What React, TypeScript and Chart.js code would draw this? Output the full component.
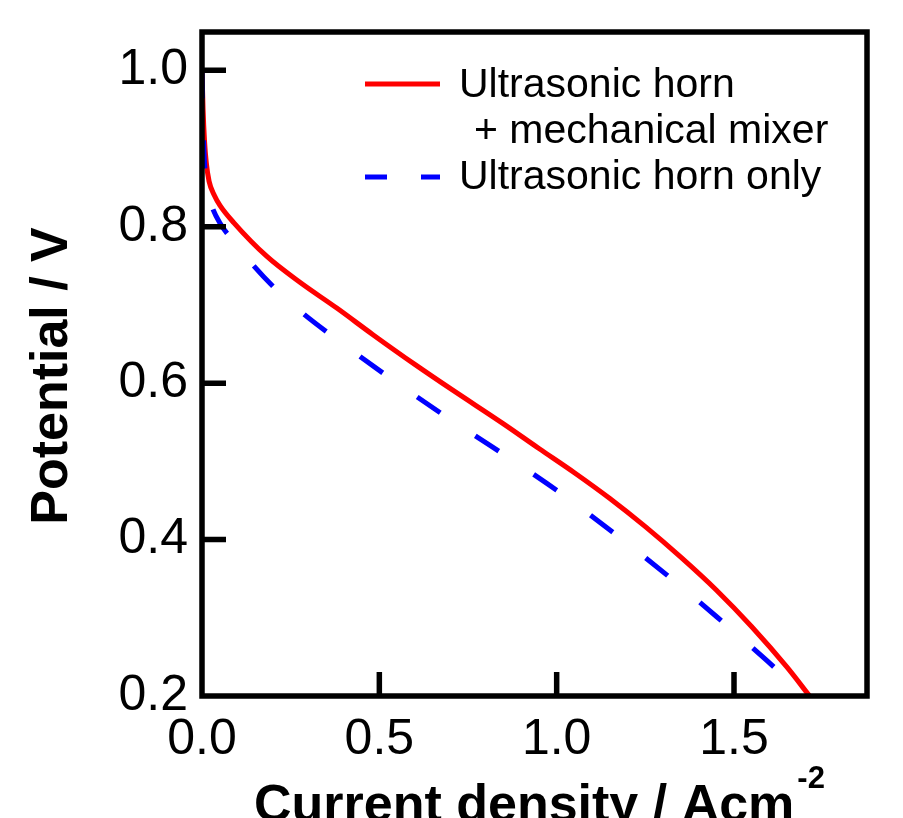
import React, { useEffect, useRef } from 'react';
import { Chart, registerables } from 'chart.js';

Chart.register(...registerables);

// ---- data ----
const redX = [0, 0.003, 0.007, 0.012, 0.02, 0.035, 0.051, 0.09, 0.183, 0.276, 0.38, 0.482, 0.6, 0.707, 0.85, 0.95, 1.05, 1.15, 1.25, 1.35, 1.45, 1.55, 1.65, 1.713];
const redY = [1.0, 0.95, 0.91, 0.882, 0.858, 0.84, 0.827, 0.805, 0.762, 0.729, 0.696, 0.662, 0.624, 0.591, 0.548, 0.5165, 0.4855, 0.4525, 0.4165, 0.3775, 0.3355, 0.2885, 0.2365, 0.2];

const blueX = [0, 0.002, 0.005, 0.009, 0.014, 0.025, 0.05, 0.09, 0.14, 0.203, 0.28, 0.362, 0.44, 0.521, 0.682, 0.8405, 1.0, 1.1565, 1.3085, 1.452, 1.5945, 1.665];
const blueY = [1.0, 0.95, 0.9, 0.87, 0.85, 0.83, 0.805, 0.781, 0.753, 0.7225, 0.691, 0.662, 0.636, 0.6095, 0.559, 0.512, 0.463, 0.41, 0.3555, 0.301, 0.2445, 0.215];

const xTicks = [0, 0.5, 1.0, 1.5];
const yTicks = [0.2, 0.4, 0.6, 0.8, 1.0];
const xRange = [0, 1.875];
const yRange = [0.2, 1.049];

const legendLines = [['Ultrasonic horn', '+ mechanical mixer'], ['Ultrasonic horn only']];
const xTitle = 'Current density / Acm';
const xTitleSup = '-2';
const yTitle = 'Potential / V';

const FONT = '"Liberation Sans", Arial, Helvetica, sans-serif';

const decorPlugin = {
  id: 'decor',
  afterDraw(chart: any) {
    const { ctx, chartArea: a, scales } = chart;
    ctx.save();
    // frame
    ctx.strokeStyle = '#000';
    ctx.lineWidth = 5.5;
    ctx.lineJoin = 'miter';
    ctx.strokeRect(a.left, a.top, a.right - a.left, a.bottom - a.top);
    // inward ticks
    ctx.lineWidth = 5.5;
    ctx.beginPath();
    for (const v of yTicks) {
      const y = scales.y.getPixelForValue(v);
      if (Math.abs(y - a.bottom) < 3) continue;
      ctx.moveTo(a.left, y);
      ctx.lineTo(a.left + 24, y);
    }
    for (const v of xTicks) {
      const x = scales.x.getPixelForValue(v);
      if (Math.abs(x - a.left) < 3) continue;
      ctx.moveTo(x, a.bottom);
      ctx.lineTo(x, a.bottom - 24);
    }
    ctx.stroke();

    // legend
    const ds = chart.data.datasets;
    ctx.font = `41px ${FONT}`;
    ctx.fillStyle = '#000';
    ctx.textBaseline = 'alphabetic';
    ctx.textAlign = 'left';
    // entry 1
    ctx.strokeStyle = ds[0].borderColor;
    ctx.lineWidth = 5;
    ctx.setLineDash([]);
    ctx.beginPath();
    ctx.moveTo(365, 84);
    ctx.lineTo(440, 84);
    ctx.stroke();
    ctx.fillText(legendLines[0][0], 459, 97);
    ctx.fillText(legendLines[0][1], 474, 143);
    // entry 2
    ctx.strokeStyle = ds[1].borderColor;
    ctx.setLineDash([22, 34]);
    ctx.beginPath();
    ctx.moveTo(365, 177);
    ctx.lineTo(440, 177);
    ctx.stroke();
    ctx.setLineDash([]);
    ctx.fillText(legendLines[1][0], 459, 189);

    // axis titles
    ctx.font = `bold 52px ${FONT}`;
    ctx.textAlign = 'left';
    ctx.fillText(xTitle, 254, 821);
    const w = ctx.measureText(xTitle).width;
    ctx.font = `bold 31px ${FONT}`;
    ctx.fillText(xTitleSup, 254 + w + 3, 788);

    ctx.font = `bold 52px ${FONT}`;
    ctx.translate(67, 376);
    ctx.rotate(-Math.PI / 2);
    ctx.textAlign = 'center';
    ctx.fillText(yTitle, 0, 0);
    ctx.restore();
  },
};

export default function App() {
  const ref = useRef<HTMLCanvasElement | null>(null);
  useEffect(() => {
    if (!ref.current) return;
    const chart = new Chart(ref.current, {
      type: 'line',
      data: {
        datasets: [
          {
            label: 'Ultrasonic horn + mechanical mixer',
            data: redX.map((x, i) => ({ x, y: redY[i] })),
            borderColor: '#ff0000',
            borderWidth: 5,
            pointRadius: 0,
            cubicInterpolationMode: 'monotone',
            fill: false,
            order: 1,
          },
          {
            label: 'Ultrasonic horn only',
            data: blueX.map((x, i) => ({ x, y: blueY[i] })),
            borderColor: '#0000ff',
            borderWidth: 5,
            borderDash: [28, 42],
            borderCapStyle: 'butt',
            pointRadius: 0,
            cubicInterpolationMode: 'monotone',
            fill: false,
            order: 0,
          },
        ],
      },
      options: {
        responsive: false,
        animation: false,
        devicePixelRatio: 1,
        layout: { padding: { top: 32, right: 36, left: 0, bottom: 0 } },
        plugins: { legend: { display: false }, tooltip: { enabled: false } },
        scales: {
          x: {
            type: 'linear',
            min: xRange[0],
            max: xRange[1],
            grid: { display: false, drawTicks: false },
            border: { display: false },
            ticks: {
              stepSize: 0.5,
              includeBounds: false,
              maxRotation: 0,
              autoSkip: false,
              padding: 14,
              color: '#000',
              font: { family: FONT, size: 50 },
              callback: (v: any) => Number(v).toFixed(1),
            },
            afterFit: (s: any) => {
              s.height = 122;
              s.paddingLeft = 0;
              s.paddingRight = 0;
            },
          },
          y: {
            type: 'linear',
            min: yRange[0],
            max: yRange[1],
            grid: { display: false, drawTicks: false },
            border: { display: false },
            ticks: {
              stepSize: 0.2,
              includeBounds: false,
              autoSkip: false,
              padding: 14,
              color: '#000',
              font: { family: FONT, size: 50 },
              callback: (v: any) => Number(v).toFixed(1),
            },
            afterFit: (s: any) => {
              s.width = 202;
              s.paddingTop = 0;
              s.paddingBottom = 0;
            },
          },
        },
      },
      plugins: [decorPlugin],
    } as any);
    return () => chart.destroy();
  }, []);
  return (
    <div style={{ position: 'absolute', left: 0, top: 0, width: 903, height: 818, background: '#fff' }}>
      <canvas ref={ref} width={903} height={818} style={{ display: 'block', width: 903, height: 818 }} />
    </div>
  );
}
